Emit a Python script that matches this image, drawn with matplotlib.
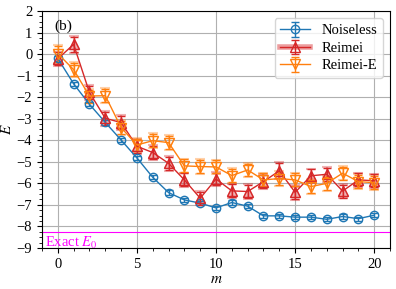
import matplotlib
matplotlib.use("Agg")
import matplotlib.pyplot as plt
from matplotlib.lines import Line2D
from matplotlib.ticker import MultipleLocator
import numpy as np

plt.rcParams['font.family'] = ['Liberation Serif', 'DejaVu Serif']
plt.rcParams['mathtext.fontset'] = 'stix'

m = list(range(21))
noiseless = [-0.2, -1.38, -2.33, -3.17, -3.99, -4.82, -5.72, -6.43, -6.77, -6.92, -7.14,
             -6.89, -7.06, -7.51, -7.51, -7.57, -7.57, -7.67, -7.54, -7.64, -7.48]
noiseless_err = [0.1] * 21
reimei = [-0.22, 0.45, -1.78, -2.98, -3.18, -4.28, -4.57, -5.07, -5.84, -6.69, -5.80,
          -6.35, -6.38, -5.92, -5.42, -6.42, -5.65, -5.58, -6.36, -5.84, -5.88]
reimei_err = [0.3, 0.35, 0.3, 0.3, 0.3, 0.3, 0.3, 0.3, 0.3, 0.3, 0.3,
              0.3, 0.3, 0.3, 0.35, 0.3, 0.3, 0.3, 0.3, 0.3, 0.3]
reimei_e = [0.02, -0.72, -1.95, -1.93, -3.41, -4.22, -4.02, -4.11, -5.19, -5.22, -5.24,
            -5.64, -5.38, -5.84, -5.78, -5.84, -6.15, -6.0, -5.53, -5.92, -5.97]
reimei_e_err = [0.37, 0.3, 0.3, 0.3, 0.3, 0.3, 0.3, 0.3, 0.3, 0.3, 0.3,
                0.3, 0.3, 0.3, 0.3, 0.3, 0.3, 0.3, 0.3, 0.3, 0.3]
exact_e0 = -8.26

fig = plt.figure(figsize=(3.96, 2.89), dpi=100)
ax = fig.add_axes([0.106, 0.142, 0.879, 0.820])

blue = '#1f77b4'
red = '#d62728'
orange = '#ff7f0e'

ax.axhline(exact_e0, color='#ff00ff', lw=0.8, zorder=1)
ax.text(-0.8, exact_e0 - 0.12, 'Exact $E_0$', color='#ff00ff', fontsize=10.5, va='top', ha='left')

# pale duplicate layers
ax.errorbar(m, reimei, yerr=[e * 1.12 for e in reimei_err], color=red, alpha=0.35, marker='^',
            ms=7, mfc=red, lw=0, elinewidth=1.5, capsize=3.5, capthick=1.5, zorder=2)
ax.errorbar(m, reimei_e, yerr=[e * 1.12 for e in reimei_e_err], color=orange, alpha=0.35, marker='v',
            ms=7, mfc='none', lw=0, elinewidth=1.5, capsize=3.5, capthick=1.5, zorder=2)

h1 = ax.errorbar(m, noiseless, yerr=noiseless_err, color=blue, marker='o', ms=6, mfc='none',
                 lw=1, elinewidth=1, capsize=3, label='Noiseless', zorder=3)
h2 = ax.errorbar(m, reimei, yerr=reimei_err, color=red, marker='^', ms=6.5, mfc='none',
                 lw=1, elinewidth=1, capsize=3, label='Reimei', zorder=3)
h3 = ax.errorbar(m, reimei_e, yerr=reimei_e_err, color=orange, marker='v', ms=6.5, mfc='none',
                 lw=1, elinewidth=1, capsize=3, label='Reimei-E', zorder=3)

pale = Line2D([], [], color=red, alpha=0.45, lw=4)
ax.legend([h1, (pale, h2), h3], ['Noiseless', 'Reimei', 'Reimei-E'], loc='upper right',
          fontsize=10.5, framealpha=0.8, handlelength=2, borderpad=0.4, labelspacing=0.3)

ax.text(0.035, 0.965, '(b)', transform=ax.transAxes, fontsize=11, va='top', ha='left')

ax.set_xlim(-1, 21)
ax.set_ylim(-9, 2)
ax.xaxis.set_major_locator(MultipleLocator(5))
ax.xaxis.set_minor_locator(MultipleLocator(1))
ax.yaxis.set_major_locator(MultipleLocator(1))
ax.yaxis.set_minor_locator(MultipleLocator(0.25))
ax.grid(True, which='major', color='#b0b0b0', lw=0.8)
ax.set_axisbelow(True)
ax.tick_params(labelsize=10.5)
ax.set_xlabel('$m$', fontsize=11, labelpad=2)
ax.set_ylabel('$E$', fontsize=11, labelpad=2)

fig.savefig('out.png', dpi=100)
